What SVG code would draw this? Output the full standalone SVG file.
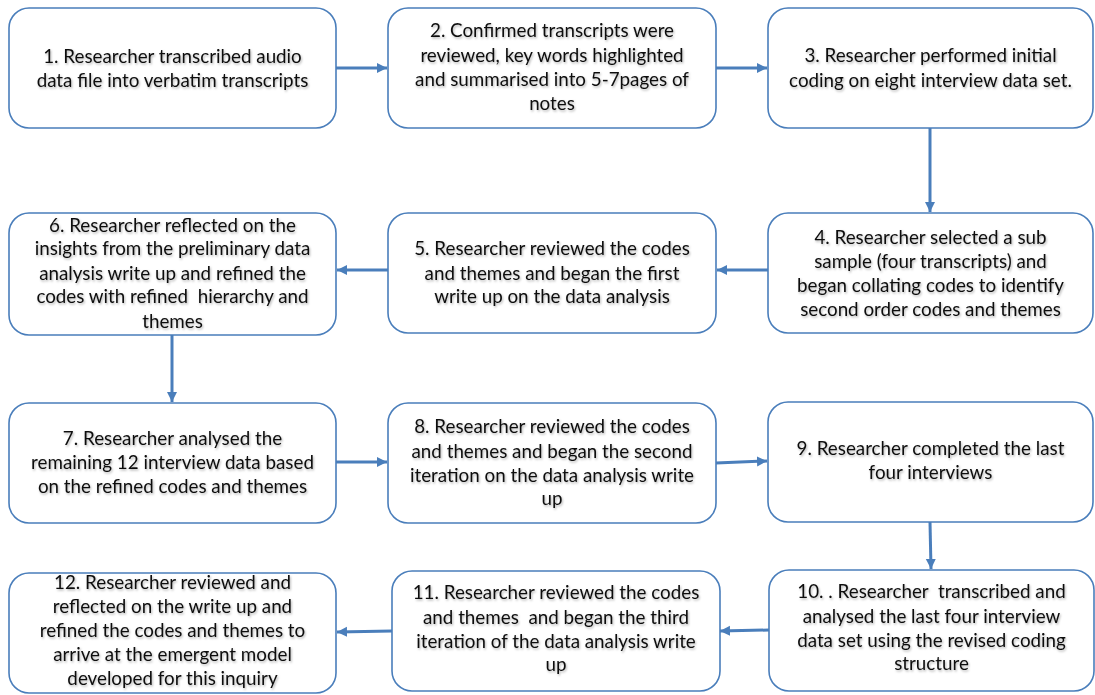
<svg xmlns="http://www.w3.org/2000/svg" width="1095" height="695" viewBox="0 0 1095 695">
<style>
.box{fill:#fff;stroke:#4A7EBB;stroke-width:1.6}
.t{font-family:Lato,"Open Sans","Liberation Sans",sans-serif;font-size:18.8px;fill:#111;text-anchor:middle;white-space:pre;filter:url(#sh)}
.c{stroke:#4A7EBB;stroke-width:3;fill:none;marker-end:url(#ah)}
</style>
<defs>
<marker id="ah" markerUnits="userSpaceOnUse" markerWidth="12" markerHeight="12" refX="10" refY="5" orient="auto">
<path d="M0,0 L10,5 L0,10 z" fill="#4A7EBB"/>
</marker>
<filter id="sh" x="-5%" y="-20%" width="110%" height="150%">
<feDropShadow dx="1" dy="1.5" stdDeviation="1" flood-color="#000" flood-opacity="0.3"/>
</filter>
</defs>
<rect width="1095" height="695" fill="#fff"/>
<g id="connectors">
<line class="c" x1="336" y1="68" x2="387" y2="68"/>
<line class="c" x1="716" y1="68" x2="767" y2="68"/>
<line class="c" x1="930" y1="128" x2="930" y2="212"/>
<line class="c" x1="768" y1="270" x2="717" y2="270"/>
<line class="c" x1="388" y1="270" x2="337" y2="270"/>
<line class="c" x1="172" y1="335" x2="172" y2="402"/>
<line class="c" x1="336" y1="462" x2="387" y2="462"/>
<line class="c" x1="716" y1="463" x2="767" y2="461"/>
<line class="c" x1="930" y1="522" x2="931" y2="569"/>
<line class="c" x1="769" y1="630" x2="720" y2="631"/>
<line class="c" x1="392" y1="631" x2="337" y2="632"/>
</g>
<g id="n1">
<rect class="box" x="9" y="8" width="327" height="120" rx="20"/>
<text class="t"><tspan x="172.5" y="63">1. Researcher transcribed audio</tspan><tspan x="172.5" y="87">data file into verbatim transcripts</tspan></text>
</g>
<g id="n2">
<rect class="box" x="388" y="8" width="328" height="120" rx="20"/>
<text class="t"><tspan x="552" y="37">2. Confirmed transcripts were</tspan><tspan x="552" y="62">reviewed, key words highlighted</tspan><tspan x="552" y="86">and summarised into 5-7pages of</tspan><tspan x="552" y="110">notes</tspan></text>
</g>
<g id="n3">
<rect class="box" x="768" y="8" width="325" height="120" rx="20"/>
<text class="t"><tspan x="930.5" y="62">3. Researcher performed initial</tspan><tspan x="930.5" y="87">coding on eight interview data set.</tspan></text>
</g>
<g id="n4">
<rect class="box" x="768" y="213" width="325" height="120" rx="20"/>
<text class="t"><tspan x="930.5" y="244">4. Researcher selected a sub</tspan><tspan x="930.5" y="268">sample (four transcripts) and</tspan><tspan x="930.5" y="292">began collating codes to identify</tspan><tspan x="930.5" y="316">second order codes and themes</tspan></text>
</g>
<g id="n5">
<rect class="box" x="388" y="213" width="328" height="120" rx="20"/>
<text class="t"><tspan x="552" y="255">5. Researcher reviewed the codes</tspan><tspan x="552" y="280">and themes and began the first</tspan><tspan x="552" y="303">write up on the data analysis</tspan></text>
</g>
<g id="n6">
<rect class="box" x="9" y="213" width="327" height="122" rx="20"/>
<text class="t"><tspan x="172.5" y="232">6. Researcher reflected on the</tspan><tspan x="172.5" y="255">insights from the preliminary data</tspan><tspan x="172.5" y="280">analysis write up and refined the</tspan><tspan x="172.5" y="303">codes with refined  hierarchy and</tspan><tspan x="172.5" y="328">themes</tspan></text>
</g>
<g id="n7">
<rect class="box" x="9" y="403" width="327" height="120" rx="20"/>
<text class="t"><tspan x="172.5" y="445">7. Researcher analysed the</tspan><tspan x="172.5" y="469">remaining 12 interview data based</tspan><tspan x="172.5" y="493">on the refined codes and themes</tspan></text>
</g>
<g id="n8">
<rect class="box" x="388" y="403" width="328" height="120" rx="20"/>
<text class="t"><tspan x="552" y="433">8. Researcher reviewed the codes</tspan><tspan x="552" y="458">and themes and began the second</tspan><tspan x="552" y="482">iteration on the data analysis write</tspan><tspan x="552" y="505">up</tspan></text>
</g>
<g id="n9">
<rect class="box" x="768" y="402" width="325" height="120" rx="20"/>
<text class="t"><tspan x="930.5" y="455">9. Researcher completed the last</tspan><tspan x="930.5" y="479">four interviews</tspan></text>
</g>
<g id="n10">
<rect class="box" x="769" y="570" width="325" height="121" rx="20"/>
<text class="t"><tspan x="931.5" y="598">10. . Researcher  transcribed and</tspan><tspan x="931.5" y="623">analysed the last four interview</tspan><tspan x="931.5" y="647">data set using the revised coding</tspan><tspan x="931.5" y="670">structure</tspan></text>
</g>
<g id="n11">
<rect class="box" x="392" y="571" width="328" height="120" rx="20"/>
<text class="t"><tspan x="556" y="599">11. Researcher reviewed the codes</tspan><tspan x="556" y="624">and themes  and began the third</tspan><tspan x="556" y="648">iteration of the data analysis write</tspan><tspan x="556" y="671">up</tspan></text>
</g>
<g id="n12">
<rect class="box" x="9" y="573" width="327" height="120" rx="20"/>
<text class="t"><tspan x="172.5" y="589">12. Researcher reviewed and</tspan><tspan x="172.5" y="613">reflected on the write up and</tspan><tspan x="172.5" y="637">refined the codes and themes to</tspan><tspan x="172.5" y="661">arrive at the emergent model</tspan><tspan x="172.5" y="685">developed for this inquiry</tspan></text>
</g>
</svg>
